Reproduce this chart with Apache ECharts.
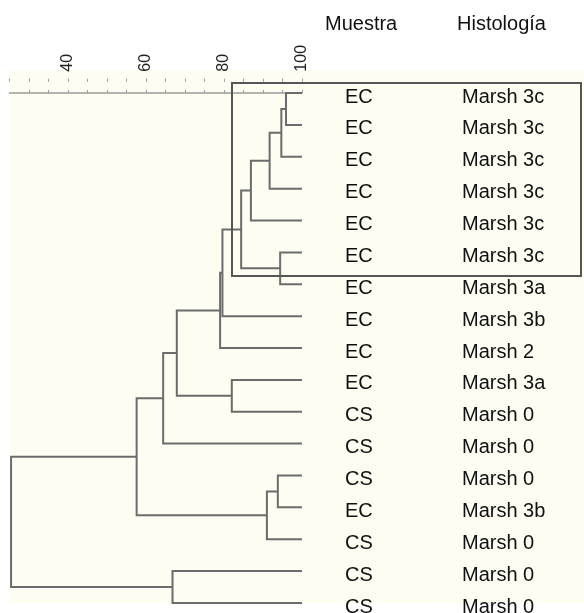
<!DOCTYPE html>
<html>
<head>
<meta charset="utf-8">
<script src="https://cdn.jsdelivr.net/npm/echarts@6/dist/echarts.min.js"></script>
<style>
html,body{margin:0;padding:0;background:#ffffff;}
#chart{width:584px;height:613px;}
</style>
</head>
<body>
<div id="chart"></div>
<script>
// Leaf labels (top to bottom)
const muestra = ['EC','EC','EC','EC','EC','EC','EC','EC','EC','EC','CS','CS','CS','EC','CS','CS','CS'];
const histologia = ['Marsh 3c','Marsh 3c','Marsh 3c','Marsh 3c','Marsh 3c','Marsh 3c','Marsh 3a','Marsh 3b','Marsh 2','Marsh 3a','Marsh 0','Marsh 0','Marsh 0','Marsh 3b','Marsh 0','Marsh 0','Marsh 0'];
// Merges: [childA, childB, similarity]; leaves are 0..16, new nodes numbered 17, 18, ...
const mergeA = [0, 17, 18, 19, 5, 20, 22, 23, 9, 24, 26, 12, 28, 27, 15, 30];
const mergeB = [1, 2, 3, 4, 6, 21, 7, 8, 10, 25, 11, 13, 14, 29, 16, 31];
const mergeSim = [95.9, 94.7, 91.7, 86.9, 94.4, 84.4, 79.6, 79.0, 82.0, 67.9, 64.4, 93.8, 91.0, 57.6, 66.8, 25.4];
const tickValues = [40, 60, 80, 100];
const headers = ['Muestra', 'Histología'];

const leafSim = 100;
const nLeaf = muestra.length;

// Node positions (similarity, row)
const nodeX = [], nodeY = [];
for (let i = 0; i < nLeaf; i++) { nodeX.push(leafSim); nodeY.push(i); }
const links = [];
for (let k = 0; k < mergeA.length; k++) {
  const a = mergeA[k], b = mergeB[k], s = mergeSim[k];
  links.push([a, b, s]);
  nodeX.push(s);
  nodeY.push((nodeY[a] + nodeY[b]) / 2);
}
const linkData = links.map((l, k) => [nodeX[l[0]], nodeY[l[0]], l[2], nodeX[l[1]], nodeY[l[1]]]);
const leafData = muestra.map((m, i) => [leafSim, i, m, histologia[i]]);

const FONT = '"Liberation Sans", Arial, Helvetica, sans-serif';
const LINE = '#6c6c6c';

const chart = echarts.init(document.getElementById('chart'), null, {renderer: 'canvas'});
chart.setOption({
  animation: false,
  backgroundColor: '#ffffff',
  graphic: [
    { type: 'rect', z: -10, silent: true, shape: {x: 10, y: 70, width: 574, height: 533}, style: {fill: '#fdfdf1'} },
    { type: 'rect', z: 100, silent: true, shape: {x: 232, y: 83, width: 349, height: 193}, style: {fill: null, stroke: '#555555', lineWidth: 2} },
    { type: 'text', z: 100, left: 325, top: 14, style: {text: headers[0], font: '20px ' + FONT, fill: '#111'} },
    { type: 'text', z: 100, left: 457, top: 14, style: {text: headers[1], font: '20px ' + FONT, fill: '#111'} }
  ],
  grid: { left: 9.5, right: 282, top: 78.66, height: 533.9, containLabel: false },
  xAxis: [{
    type: 'value', position: 'top', min: 25, max: 100, interval: 5,
    axisLine: { show: true, lineStyle: { color: '#9a9a9a', width: 1.5 } },
    axisTick: { show: true, length: 3, lineStyle: { color: '#9a9a9a', width: 1 } },
    splitLine: { show: false },
    axisLabel: {
      show: true, rotate: 90, margin: 7, fontSize: 16, color: '#222', fontFamily: FONT,
      showMinLabel: false, showMaxLabel: true,
      formatter: v => tickValues.indexOf(v) >= 0 ? String(v) : ''
    }
  }, {
    type: 'value', position: 'top', min: 25, max: 100, interval: 5,
    axisLine: { show: false },
    axisTick: { show: true, inside: true, length: 3, lineStyle: { color: '#9a9a9a', width: 1 } },
    axisLabel: { show: false }, splitLine: { show: false }
  }],
  yAxis: { type: 'value', inverse: true, min: -0.45, max: 16.3, show: false },
  series: [{
    type: 'custom',
    xAxisIndex: 0,
    clip: false,
    data: linkData,
    renderItem: function (params, api) {
      const p1 = api.coord([api.value(0), api.value(1)]);
      const p2 = api.coord([api.value(2), api.value(1)]);
      const p3 = api.coord([api.value(2), api.value(4)]);
      const p4 = api.coord([api.value(3), api.value(4)]);
      return {
        type: 'polyline',
        shape: { points: [p1, p2, p3, p4] },
        style: { stroke: LINE, lineWidth: 2, fill: null }
      };
    }
  }, {
    type: 'custom',
    xAxisIndex: 0,
    clip: false,
    data: leafData,
    renderItem: function (params, api) {
      const p = api.coord([api.value(0), api.value(1)]);
      const d = leafData[params.dataIndex];
      return {
        type: 'group',
        children: [
          { type: 'text', x: p[0] + 43, y: p[1] + 4, style: { text: d[2], font: '20px ' + FONT, fill: '#111', textVerticalAlign: 'middle', verticalAlign: 'middle' } },
          { type: 'text', x: p[0] + 160, y: p[1] + 4, style: { text: d[3], font: '20px ' + FONT, fill: '#111', textVerticalAlign: 'middle', verticalAlign: 'middle' } }
        ]
      };
    }
  }]
});
</script>
</body>
</html>
